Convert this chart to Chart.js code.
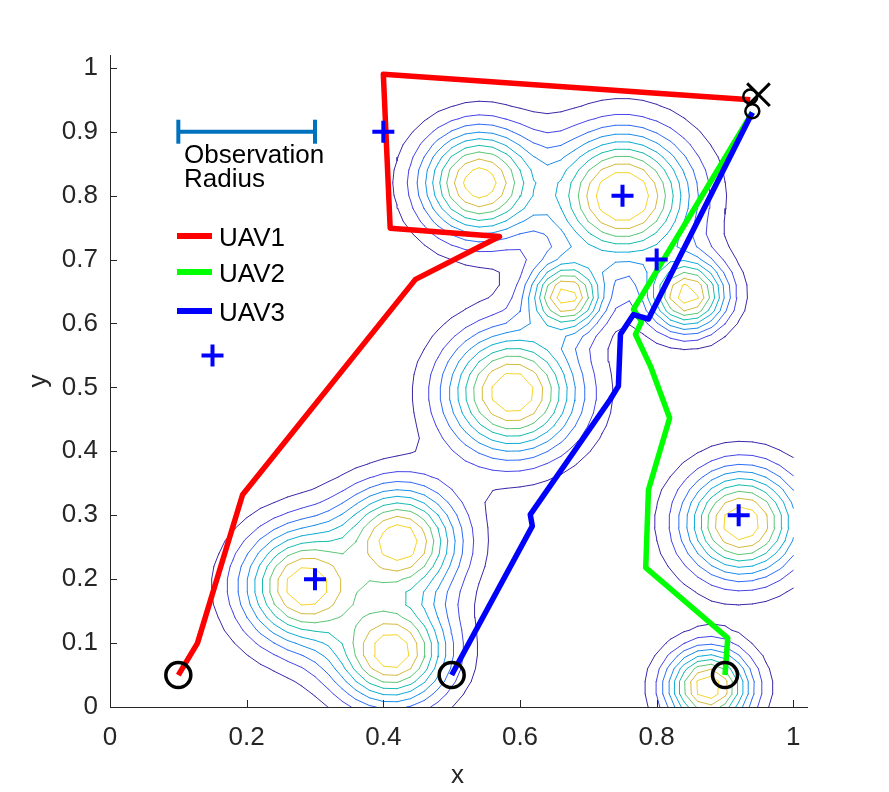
<!DOCTYPE html>
<html>
<head>
<meta charset="utf-8">
<script src="https://cdn.jsdelivr.net/npm/chart.js@4.4.1/dist/chart.umd.min.js"></script>
<style>
  html, body { margin: 0; padding: 0; background: #fff; }
</style>
</head>
<body>
<canvas id="chart" width="889" height="792"></canvas>
<script>
// target probability field: one gaussian bump per peak, combined as 1 - prod(1 - p)
const peakX = [0.541, 0.750, 0.668, 0.845, 0.589, 0.423, 0.287, 0.412, 0.924, 0.876];
const peakY = [0.820, 0.799, 0.643, 0.645, 0.492, 0.258, 0.189, 0.087, 0.288, 0.031];
const peakAmp = [0.98, 1.05, 0.98, 0.98, 1.0, 1.0, 1.0, 1.0, 1.0, 1.0];
const peakSigma = [0.059, 0.07, 0.037, 0.04, 0.068, 0.06, 0.064, 0.058, 0.059, 0.043];
const contourLevels = [0.1, 0.2, 0.3, 0.4, 0.5, 0.6, 0.7, 0.8, 0.9];
const levelColors = ["#3e26a8", "#4745e6", "#2f6cf5", "#1c8fe8", "#10acd6", "#17bcae", "#5ec677", "#d6ba3e", "#f6d42a"];

// uav paths
const uav1X = [0.1, 0.128, 0.194, 0.447, 0.57, 0.41, 0.4, 0.937];
const uav1Y = [0.05, 0.1, 0.332, 0.669, 0.736, 0.749, 0.99, 0.95];
const uav2X = [0.9, 0.904, 0.784, 0.788, 0.819, 0.791, 0.769, 0.778, 0.766, 0.94];
const uav2Y = [0.05, 0.108, 0.218, 0.34, 0.452, 0.533, 0.583, 0.603, 0.622, 0.93];
const uav3X = [0.5, 0.618, 0.615, 0.732, 0.744, 0.747, 0.766, 0.788, 0.94];
const uav3Y = [0.05, 0.283, 0.301, 0.481, 0.502, 0.583, 0.614, 0.607, 0.93];

// markers
const targetX = [0.4, 0.15, 0.75, 0.8, 0.3, 0.92];
const targetY = [0.9, 0.55, 0.8, 0.7, 0.2, 0.3];
const startX = [0.1, 0.5, 0.9];
const startY = [0.05, 0.05, 0.05];
const endX = [0.937, 0.94];
const endY = [0.955, 0.932];
const goalX = [0.949];
const goalY = [0.958];

// observation radius bar
const radiusBarX = [0.1, 0.3];
const radiusBarY = [0.9, 0.9];

const xTickStep = 0.2;
const yTickStep = 0.1;
const axisMax = 1.02;

const FONT = "'Liberation Sans', Arial, Helvetica, sans-serif";
const FSIZE = 26;
const TXT = "#262626";

const toPts = (xs, ys) => xs.map((x, i) => ({ x: x, y: ys[i] }));

// field on a grid
const N = 51;
const grid = [];
for (let i = 0; i < N; i++) grid.push(i / (N - 1));
const Z = grid.map((y) =>
  grid.map((x) => {
    let miss = 1;
    for (let k = 0; k < peakX.length; k++) {
      const dx = x - peakX[k], dy = y - peakY[k];
      const p = peakAmp[k] * Math.exp(-(dx * dx + dy * dy) / (2 * peakSigma[k] * peakSigma[k]));
      miss *= 1 - Math.min(1, p);
    }
    return 1 - miss;
  })
);

// marching squares -> segments separated by gaps
let contourLines = (level) => {
  const out = [];
  const gap = { x: NaN, y: NaN };
  const lerp = (va, vb, xa, ya, xb, yb) => {
    const t = (level - va) / (vb - va);
    return { x: xa + t * (xb - xa), y: ya + t * (yb - ya) };
  };
  for (let j = 0; j < N - 1; j++) {
    for (let i = 0; i < N - 1; i++) {
      const x0 = grid[i], x1 = grid[i + 1], y0 = grid[j], y1 = grid[j + 1];
      const a = Z[j][i], b = Z[j][i + 1], c = Z[j + 1][i + 1], d = Z[j + 1][i];
      const ea = a > level, eb = b > level, ec = c > level, ed = d > level;
      const cr = [];
      if (ea !== eb) cr.push(lerp(a, b, x0, y0, x1, y0));
      if (eb !== ec) cr.push(lerp(b, c, x1, y0, x1, y1));
      if (ec !== ed) cr.push(lerp(c, d, x1, y1, x0, y1));
      if (ed !== ea) cr.push(lerp(d, a, x0, y1, x0, y0));
      if (cr.length === 2) {
        out.push(cr[0], cr[1], gap);
      } else if (cr.length === 4) {
        const mid = (a + b + c + d) / 4 > level;
        if (mid === ea) out.push(cr[0], cr[1], gap, cr[2], cr[3], gap);
        else out.push(cr[3], cr[0], gap, cr[1], cr[2], gap);
      }
    }
  }
  return out;
};

const datasets = [];

// markers on top
datasets.push({
  data: toPts(targetX, targetY), pointStyle: "cross", pointRadius: 11,
  pointBorderWidth: 4, borderColor: "#0000ff", backgroundColor: "#0000ff", order: 0
});
datasets.push({
  data: toPts(startX, startY), pointStyle: "circle", pointRadius: 12.5,
  pointBorderWidth: 3.5, borderColor: "#000", backgroundColor: "rgba(0,0,0,0)", order: 0
});
datasets.push({
  data: toPts(endX, endY), pointStyle: "circle", pointRadius: 7,
  pointBorderWidth: 2.5, borderColor: "#000", backgroundColor: "rgba(0,0,0,0)", order: 0
});
datasets.push({
  data: toPts(goalX, goalY), pointStyle: "crossRot", pointRadius: 16,
  pointBorderWidth: 3, borderColor: "#000", backgroundColor: "#000", order: 0
});

// observation radius bar with end caps
datasets.push({
  data: toPts(radiusBarX, radiusBarY), showLine: true, borderColor: "#0072bd",
  borderWidth: 4, pointStyle: "line", pointRotation: 90, pointRadius: 12,
  pointBorderWidth: 4, pointBorderColor: "#0072bd", order: 1
});

// paths
[[uav3X, uav3Y, "#0000ff", 1], [uav2X, uav2Y, "#00ff00", 2], [uav1X, uav1Y, "#ff0000", 3]].forEach((p) => {
  datasets.push({
    data: toPts(p[0], p[1]), showLine: true, borderColor: p[2], borderWidth: 5.5,
    pointRadius: 0, borderJoinStyle: "round", borderCapStyle: "butt", order: p[3]
  });
});

// contours
contourLevels.forEach((lv, k) => {
  datasets.push({
    data: contourLines(lv), showLine: true, borderColor: levelColors[k], borderWidth: 1,
    pointRadius: 0, borderCapStyle: "round", order: 10
  });
});

// legend, labels, inward ticks
const decorPlugin = {
  id: "decor",
  afterDraw(chart) {
    const ctx = chart.ctx;
    const xs = chart.scales.x, ys = chart.scales.y;
    ctx.save();
    // inward tick marks
    ctx.strokeStyle = TXT;
    ctx.lineWidth = 1;
    ctx.beginPath();
    xs.ticks.forEach((t) => {
      const px = Math.round(xs.getPixelForValue(t.value)) + 0.5;
      ctx.moveTo(px, ys.bottom);
      ctx.lineTo(px, ys.bottom - 7);
    });
    ys.ticks.forEach((t) => {
      const py = Math.round(ys.getPixelForValue(t.value)) + 0.5;
      ctx.moveTo(xs.left, py);
      ctx.lineTo(xs.left + 7, py);
    });
    ctx.stroke();

    // axis labels
    ctx.fillStyle = TXT;
    ctx.font = FSIZE + "px " + FONT;
    ctx.textAlign = "center";
    ctx.textBaseline = "alphabetic";
    ctx.fillText("x", (xs.left + xs.right) / 2 - 1, 783);
    ctx.save();
    ctx.translate(46, (ys.top + ys.bottom) / 2);
    ctx.rotate(-Math.PI / 2);
    ctx.fillText("y", 0, 0);
    ctx.restore();

    // observation radius label
    ctx.fillStyle = "#000";
    ctx.textAlign = "left";
    ctx.fillText("Observation", 184, 163);
    ctx.fillText("Radius", 184, 187);

    // uav legend
    const items = [["UAV1", "#ff0000", 236], ["UAV2", "#00ff00", 272], ["UAV3", "#0000ff", 311]];
    items.forEach((it) => {
      ctx.strokeStyle = it[1];
      ctx.lineWidth = 6;
      ctx.beginPath();
      ctx.moveTo(177, it[2]);
      ctx.lineTo(212, it[2]);
      ctx.stroke();
      ctx.fillStyle = "#000";
      ctx.fillText(it[0], 219, it[2] + 10);
    });
    ctx.restore();
  }
};

new Chart(document.getElementById("chart"), {
  type: "scatter",
  data: { datasets: datasets },
  options: {
    responsive: false,
    animation: false,
    events: [],
    layout: { padding: { left: 0, top: 55, right: 82, bottom: 0 } },
    plugins: { legend: { display: false }, tooltip: { enabled: false } },
    scales: {
      x: {
        type: "linear", min: 0, max: axisMax,
        afterFit: (s) => { s.height = 85; },
        grid: { display: true, drawOnChartArea: false, drawTicks: false },
        border: { display: true, color: TXT, width: 1 },
        ticks: {
          stepSize: xTickStep, includeBounds: false, padding: 15, color: TXT,
          font: { size: FSIZE, family: FONT },
          maxRotation: 0, autoSkip: false,
          callback: (v) => String(Math.round(v * 100) / 100)
        }
      },
      y: {
        type: "linear", min: 0, max: axisMax,
        afterFit: (s) => { s.width = 110; },
        grid: { display: true, drawOnChartArea: false, drawTicks: false },
        border: { display: true, color: TXT, width: 1 },
        ticks: {
          stepSize: yTickStep, includeBounds: false, padding: 12, color: TXT,
          font: { size: FSIZE, family: FONT },
          autoSkip: false,
          callback: (v) => String(Math.round(v * 100) / 100)
        }
      }
    }
  },
  plugins: [decorPlugin]
});
</script>
</body>
</html>
